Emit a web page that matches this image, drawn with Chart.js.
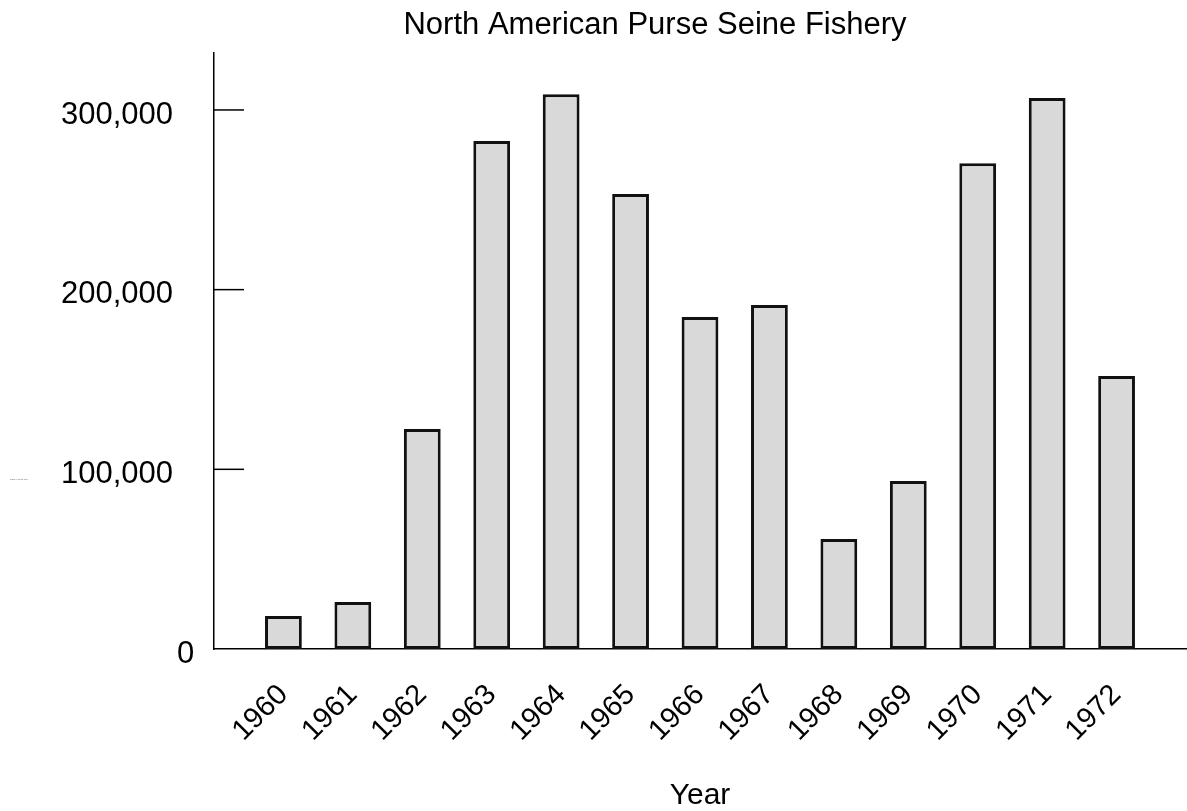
<!DOCTYPE html>
<html>
<head>
<meta charset="utf-8">
<script src="https://cdn.jsdelivr.net/npm/chart.js@4.4.0/dist/chart.umd.min.js"></script>
<style>
  html, body { margin: 0; padding: 0; background: #fff; }
  #wrap { width: 1187px; height: 811px; }
</style>
</head>
<body>
<div id="wrap"><canvas id="myCanvas" width="1187" height="811"></canvas></div>
<script>
// data
var years = [1960, 1961, 1962, 1963, 1964, 1965, 1966, 1967, 1968, 1969, 1970, 1971, 1972];
var catchTons = [18400, 26200, 122400, 282700, 308800, 253200, 184800, 191400, 61200, 93500, 270400, 306600, 151900];
var yTicks = [0, 100000, 200000, 300000];

var FONT = '"Liberation Sans", Arial, sans-serif';

// draws title, y tick labels and the inward ticks
var decorations = {
    id: 'decorations',
    afterDraw: function(chart) {
        var ctx = chart.ctx;
        var area = chart.chartArea;
        var y = chart.scales.y;
        ctx.save();
        ctx.fillStyle = '#000';
        ctx.strokeStyle = '#000';

        ctx.font = '31px ' + FONT;
        ctx.textAlign = 'center';
        ctx.textBaseline = 'alphabetic';
        ctx.fillText('North American Purse Seine Fishery', 655, 34);

        ctx.font = '31px ' + FONT;
        ctx.textBaseline = 'middle';
        ctx.lineWidth = 1.5;
        yTicks.forEach(function(v) {
            var py = y.getPixelForValue(v);
            var label = v.toLocaleString('en-US');
            if (v === 0) {
                ctx.textAlign = 'left';
                ctx.fillText(label, area.left - 37, py + 5);
            } else {
                ctx.textAlign = 'right';
                ctx.fillText(label, area.left - 41, py + 5);
                ctx.beginPath();
                ctx.moveTo(area.left, py);
                ctx.lineTo(area.left + 30, py);
                ctx.stroke();
            }
        });

        // the tiny left label in the original
        ctx.font = '2px ' + FONT;
        ctx.textAlign = 'left';
        ctx.fillStyle = '#666';
        ctx.fillText('Catch in metric tons', 10, 479);
        ctx.restore();
    }
};

var ctx = document.getElementById('myCanvas').getContext('2d');
var myChart = new Chart(ctx, {
    type: 'bar',
    data: {
        datasets: [{
            label: 'Catch',
            data: years.map(function(yr, i) { return { x: yr, y: catchTons[i] }; }),
            backgroundColor: '#d9d9d9',
            borderColor: '#111',
            borderWidth: 3,
            borderSkipped: false,
            barPercentage: 0.53,
            categoryPercentage: 1
        }]
    },
    options: {
        responsive: false,
        animation: false,
        layout: { padding: { top: 53, right: 1, left: 0, bottom: 0 } },
        plugins: {
            legend: { display: false },
            tooltip: { enabled: false }
        },
        scales: {
            x: {
                type: 'linear',
                min: 1959,
                max: 1973,
                offset: false,
                grid: { display: false },
                border: { display: true, color: '#000', width: 1.5 },
                afterBuildTicks: function(scale) {
                    scale.ticks = years.map(function(v) { return { value: v }; });
                },
                afterFit: function(scale) { scale.height = 162; },
                ticks: {
                    autoSkip: false,
                    minRotation: 45,
                    maxRotation: 45,
                    padding: 21,
                    color: '#000',
                    font: { size: 29, family: FONT },
                    callback: function(v) { return String(v); }
                },
                title: {
                    display: true,
                    text: 'Year',
                    color: '#000',
                    font: { size: 30, family: FONT },
                    padding: { top: 0, bottom: -3 }
                }
            },
            y: {
                min: 0,
                max: 331700,
                grid: { display: false },
                border: { display: true, color: '#000', width: 1.5 },
                afterBuildTicks: function(scale) {
                    scale.ticks = yTicks.map(function(v) { return { value: v }; });
                },
                afterFit: function(scale) { scale.width = 214; },
                ticks: { display: false }
            }
        }
    },
    plugins: [decorations]
});
</script>
</body>
</html>
